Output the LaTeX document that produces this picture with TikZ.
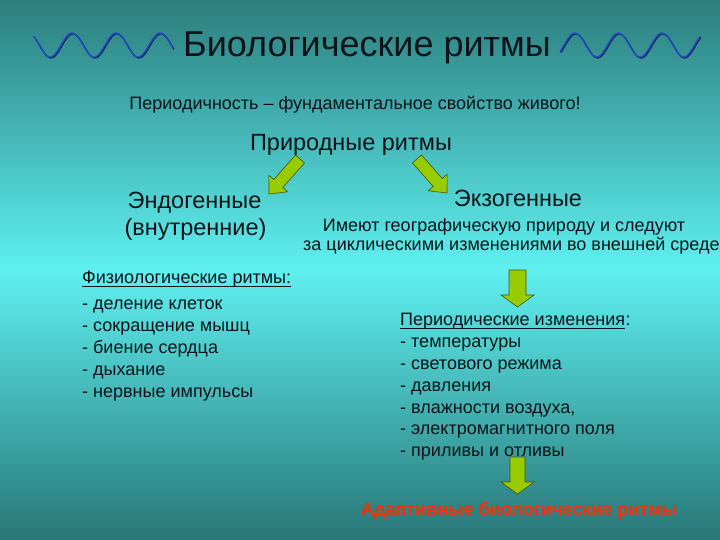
\documentclass[tikz,border=0pt]{standalone}
\usepackage{fontspec}
\setmainfont{Liberation Sans}
\usetikzlibrary{calc}
\definecolor{bgtop}{RGB}{45,125,125}
\definecolor{bgmid}{RGB}{95,240,240}
\definecolor{bgbot}{RGB}{40,118,118}
\definecolor{arrfill}{RGB}{153,204,0}
\definecolor{arrline}{RGB}{70,85,0}
\definecolor{wavecol}{RGB}{30,80,200}
\definecolor{wavedark}{RGB}{15,30,90}
\definecolor{redtxt}{RGB}{255,45,0}
\definecolor{ink}{RGB}{10,20,25}
\newcommand\blkarrow[6]{%
  \coordinate (#1h) at ($(#3)!#6!(#2)$);
  \draw[barrow] ($(#2)!#4!90:(#3)$) -- ($(#1h)!#4!90:(#3)$) -- ($(#1h)!#5!90:(#3)$) -- (#3)
     -- ($(#1h)!#5!-90:(#3)$) -- ($(#1h)!#4!-90:(#3)$) -- ($(#2)!#4!-90:(#3)$) -- cycle;}
\tikzset{
  txt/.style={inner sep=0pt, text=ink},
  barrow/.style={fill=arrfill, draw=arrline, line width=0.6pt, line join=miter},
  wavebase/.style={line width=1.3pt, smooth, samples=150},
  uline/.style={draw=ink, line width=0.9pt}
}
\begin{document}
\begin{tikzpicture}[x=1pt,y=-1pt]
\useasboundingbox (0,0) rectangle (720,540);
\shade[top color=bgtop, bottom color=bgbot, middle color=bgmid] (0,0) rectangle (720,540);

% waves
\draw[wavebase, wavedark, shift={(0.9,0.9)}] plot[domain=33:173] (\x,{45+12*sin((\x-39)*8.1818)});
\draw[wavebase, wavecol] plot[domain=33:173] (\x,{45+12*sin((\x-39)*8.1818)});
\draw[wavebase, wavedark, shift={(0.9,0.9)}] plot[domain=560:700] (\x,{45-12*sin((\x-564)*8.27586)});
\draw[wavebase, wavecol] plot[domain=560:700] (\x,{45-12*sin((\x-564)*8.27586)});

% texts
\node[txt, anchor=base, font=\fontsize{36}{40}\selectfont] (title) at (367,57) {Биологические ритмы};
\node[txt, anchor=base, font=\fontsize{18}{20}\selectfont] (sub) at (355,110) {Периодичность – фундаментальное свойство живого!};
\node[txt, anchor=base, font=\fontsize{23.5}{28}\selectfont] (nat) at (351,151) {Природные ритмы};
\node[txt, anchor=base, font=\fontsize{23.5}{28}\selectfont] (endo) at (194.5,208) {Эндогенные};
\node[txt, anchor=base, font=\fontsize{23.5}{28}\selectfont] (endo2) at (195.5,236) {(внутренние)};
\node[txt, anchor=base, font=\fontsize{23.5}{28}\selectfont] (exo) at (518,207) {Экзогенные};
\node[txt, anchor=base, font=\fontsize{18}{20}\selectfont] (exo1) at (504,232) {Имеют географическую природу и следуют};
\node[txt, anchor=base west, font=\fontsize{18}{20}\selectfont] (exo2) at (303,251) {за циклическими изменениями во внешней среде};

% left list
\node[txt, anchor=base west, font=\fontsize{18}{20}\selectfont] (lh) at (82,283) {Физиологические ритмы:};
\draw[uline] ($(lh.base west)+(0,3)$) -- ($(lh.base east)+(0,3)$);
\node[txt, anchor=base west, font=\fontsize{18}{20}\selectfont] (l1) at (82,309) {- деление клеток};
\node[txt, anchor=base west, font=\fontsize{18}{20}\selectfont] (l2) at (82,331) {- сокращение мышц};
\node[txt, anchor=base west, font=\fontsize{18}{20}\selectfont] (l3) at (82,353) {- биение сердца};
\node[txt, anchor=base west, font=\fontsize{18}{20}\selectfont] (l4) at (82,375) {- дыхание};
\node[txt, anchor=base west, font=\fontsize{18}{20}\selectfont] (l5) at (82,397) {- нервные импульсы};

% right list
\node[txt, anchor=base west, font=\fontsize{18}{20}\selectfont] (rh) at (400,325) {Периодические изменения};
\node[txt, anchor=base west, font=\fontsize{18}{20}\selectfont] (rhc) at (rh.base east) {:};
\draw[uline] ($(rh.base west)+(0,3)$) -- ($(rh.base east)+(0,3)$);
\node[txt, anchor=base west, font=\fontsize{18}{20}\selectfont] (r1) at (400,347) {- температуры};
\node[txt, anchor=base west, font=\fontsize{18}{20}\selectfont] (r2) at (400,369) {- светового режима};
\node[txt, anchor=base west, font=\fontsize{18}{20}\selectfont] (r3) at (400,391) {- давления};
\node[txt, anchor=base west, font=\fontsize{18}{20}\selectfont] (r4) at (400,413) {- влажности воздуха,};
\node[txt, anchor=base west, font=\fontsize{18}{20}\selectfont] (r5) at (400,434) {- электромагнитного поля};
\node[txt, anchor=base west, font=\fontsize{18}{20}\selectfont] (r6) at (400,456) {- приливы и отливы};

\node[inner sep=0pt, anchor=base, text=redtxt, font=\fontsize{18}{20}\selectfont\bfseries] (adapt) at (519,515) {Адаптивные биологические ритмы};

% arrows
\coordinate (a1t) at (300,159); \coordinate (a1p) at (269,194);
\coordinate (a2t) at (417,159); \coordinate (a2p) at (447,193);
\coordinate (a3t) at (517.5,270); \coordinate (a3p) at (517.5,307);
\coordinate (a4t) at (517.5,457); \coordinate (a4p) at (517.5,494);
\blkarrow{A}{a1t}{a1p}{6pt}{12.5pt}{14pt}
\blkarrow{B}{a2t}{a2p}{6pt}{12.5pt}{14pt}
\blkarrow{C}{a3t}{a3p}{8.5pt}{16.5pt}{12pt}
\blkarrow{D}{a4t}{a4p}{7.5pt}{16.5pt}{12pt}
\end{tikzpicture}
\end{document}
